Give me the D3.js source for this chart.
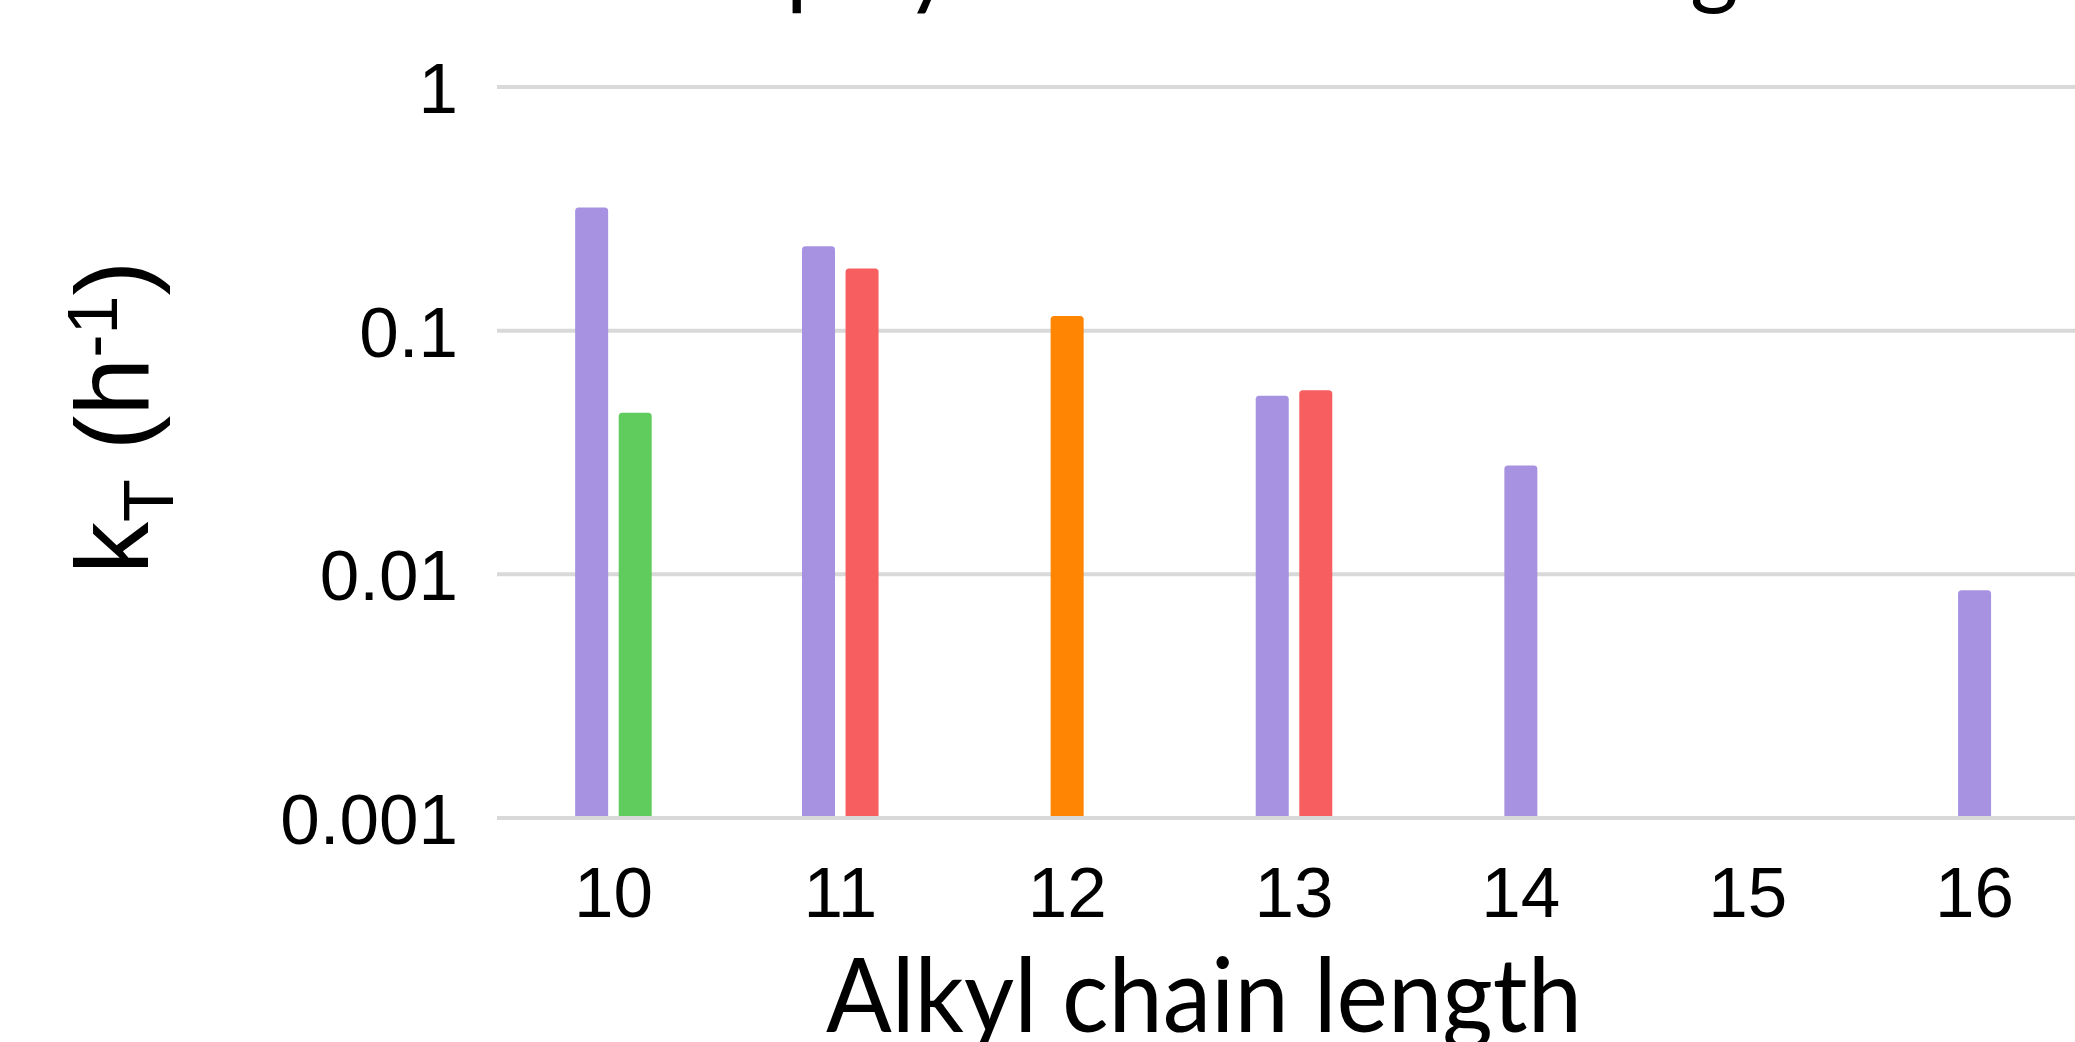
<!DOCTYPE html>
<html>
<head>
<meta charset="utf-8">
<script src="https://cdn.jsdelivr.net/npm/d3@7/dist/d3.min.js"></script>
<style>
  html, body { margin: 0; padding: 0; background: #ffffff; }
  svg { display: block; }
</style>
</head>
<body>
<svg id="chart" width="2075" height="1042"></svg>
<script>
// ---------------- data ----------------
const categories = ["10", "11", "12", "13", "14", "15", "16"];
const purpleValues = [0.32, 0.222, null, 0.054, 0.028, null, 0.0086];
const greenValues  = [0.046, null, null, null, null, null, null];
const orangeValues = [null, null, 0.115, null, null, null, null];
const redValues    = [null, 0.18, null, 0.057, null, null, null];
const yTickValues = [0.001, 0.01, 0.1, 1];
const yTickLabels = ["0.001", "0.01", "0.1", "1"];
const titleText = "Interplay of k and chain length";
const xAxisTitle = "Alkyl chain length";

const series = [
  { name: "purple", color: "#a791e1", values: purpleValues },
  { name: "green",  color: "#5fcc5d", values: greenValues },
  { name: "orange", color: "#ff8502", values: orangeValues },
  { name: "red",    color: "#f75e5f", values: redValues }
];

// ---------------- layout ----------------
const W = 2075, H = 1042;
const svg = d3.select("#chart");
svg.append("rect").attr("width", W).attr("height", H).attr("fill", "#ffffff");

const gridLeft = 497;
const x = d3.scaleBand().domain(categories).range([500, 2088]);
const y = d3.scaleLog().domain([0.001, 1]).range([818, 87]);

const barStep = x.bandwidth() * 0.192;
const barW = x.bandwidth() * 0.1455;
const pad = 1 - barW / barStep;

// gridlines (drawn under bars)
const gridG = svg.append("g");
gridG.selectAll("line").data(yTickValues.filter(v => v !== 0.001)).join("line")
  .attr("x1", gridLeft).attr("x2", W)
  .attr("y1", d => y(d)).attr("y2", d => y(d))
  .attr("stroke", "#d9d9d9").attr("stroke-width", 4);

// bars
function topRounded(x0, y0, w, h, r) {
  r = Math.min(r, w / 2, h);
  return `M${x0},${y0 + h}V${y0 + r}Q${x0},${y0} ${x0 + r},${y0}H${x0 + w - r}Q${x0 + w},${y0} ${x0 + w},${y0 + r}V${y0 + h}Z`;
}
const barsG = svg.append("g");
categories.forEach((cat, i) => {
  const items = series.filter(s => s.values[i] != null).map(s => ({ color: s.color, v: s.values[i] }));
  const n = items.length;
  if (!n) return;
  const c = x(cat) + x.bandwidth() / 2;
  const inner = d3.scaleBand().domain(d3.range(n))
    .range([c - n * barStep / 2, c + n * barStep / 2])
    .paddingInner(pad).paddingOuter(pad / 2);
  items.forEach((d, j) => {
    const y0 = y(d.v), y1 = y(0.001);
    barsG.append("path")
      .attr("d", topRounded(inner(j), y0, inner.bandwidth(), y1 - y0, 3.5))
      .attr("fill", d.color);
  });
});

// baseline gridline on top
svg.append("line")
  .attr("x1", gridLeft).attr("x2", W)
  .attr("y1", y(0.001)).attr("y2", y(0.001))
  .attr("stroke", "#d9d9d9").attr("stroke-width", 4);

// y tick labels
const tickFont = "'Liberation Sans', Arial, sans-serif";
svg.append("g").selectAll("text").data(yTickValues).join("text")
  .attr("x", gridLeft - 39)
  .attr("y", d => y(d) + 26)
  .attr("text-anchor", "end")
  .attr("font-family", tickFont)
  .attr("font-size", 71)
  .attr("fill", "#000")
  .text((d, i) => yTickLabels[i]);

// x tick labels
svg.append("g").selectAll("text").data(categories).join("text")
  .attr("x", d => x(d) + x.bandwidth() / 2)
  .attr("y", 917)
  .attr("text-anchor", "middle")
  .attr("font-family", tickFont)
  .attr("font-size", 71)
  .attr("fill", "#000")
  .text(d => d);

// x axis title
svg.append("text")
  .attr("x", 826).attr("y", 1032)
  .attr("font-family", "Lato, 'Open Sans', sans-serif")
  .attr("font-size", 103)
  .attr("fill", "#000")
  .attr("textLength", 756)
  .attr("lengthAdjust", "spacingAndGlyphs")
  .text(xAxisTitle);

// y axis title
const yt = svg.append("text")
  .attr("transform", "translate(148,574) rotate(-90)")
  .attr("font-family", tickFont)
  .attr("font-size", 104)
  .attr("fill", "#000");
yt.append("tspan").text("k");
yt.append("tspan").attr("dy", 25).attr("font-size", 70).text("T");
yt.append("tspan").attr("dy", -25).text(" (h");
yt.append("tspan").attr("dy", -31).attr("font-size", 70).text("-1");
yt.append("tspan").attr("dy", 31).text(")");

// chart title (mostly cropped above the top edge): only descenders show
const title = svg.append("text")
  .attr("x", 0)
  .attr("y", 0)
  .attr("font-family", "Lato, 'Open Sans', sans-serif")
  .attr("font-size", 104)
  .attr("fill", "#000")
  .text(titleText);
const node = title.node();
const pIdx = titleText.indexOf("p");
const gIdx = titleText.lastIndexOf("g");
let px = node.getStartPositionOfChar(pIdx).x;
let gx = node.getStartPositionOfChar(gIdx).x;
const fs = 104 * (1690 - 786) / (gx - px);
title.attr("font-size", fs);
px = node.getStartPositionOfChar(pIdx).x;
title.attr("x", 786 - px).attr("y", -3);
</script>
</body>
</html>
